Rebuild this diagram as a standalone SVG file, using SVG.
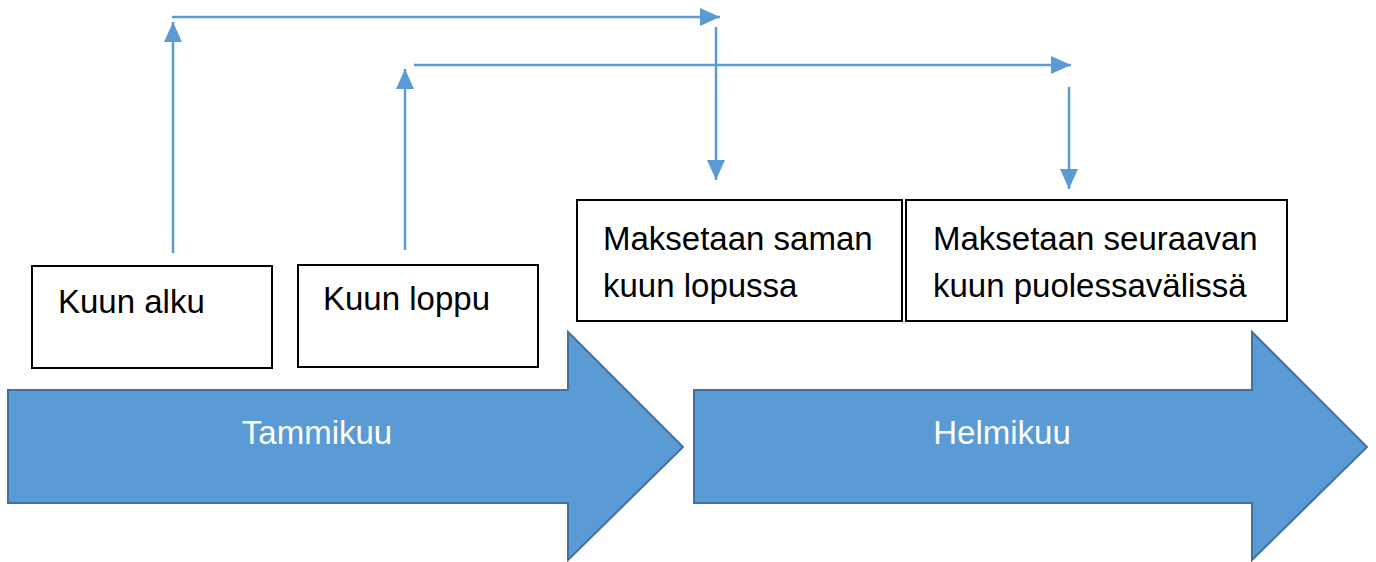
<svg xmlns="http://www.w3.org/2000/svg" width="1376" height="562" viewBox="0 0 1376 562">
<style>
.box{fill:#fff;stroke:#000;stroke-width:2}
.big{fill:#5B9BD5;stroke:#41719C;stroke-width:2}
.t{font-family:"Liberation Sans",Arial,sans-serif;font-size:33px;fill:#000}
.w{font-family:"Liberation Sans",Arial,sans-serif;font-size:33px;fill:#fff;text-anchor:middle}
.c{fill:none;stroke:#5B9BD5;stroke-width:2.5}
</style>
<defs>
<marker id="ah" markerUnits="userSpaceOnUse" markerWidth="20" markerHeight="18" refX="20" refY="9" orient="auto">
<path d="M0,0 L20,9 L0,18 Z" fill="#5B9BD5"/>
</marker>
</defs>
<rect width="1376" height="562" fill="#fff"/>
<g id="tammikuu">
<path class="big" d="M8,390 H568 V332 L683,447 L568,560 V503 H8 Z"/>
<text class="w" x="317" y="444">Tammikuu</text>
</g>
<g id="helmikuu">
<path class="big" d="M694,390 H1252 V332 L1367,447 L1252,560 V503 H694 Z"/>
<text class="w" x="1002" y="444">Helmikuu</text>
</g>
<g id="kuun-alku">
<rect class="box" x="32" y="266" width="240" height="102"/>
<text class="t" x="58" y="313">Kuun alku</text>
</g>
<g id="kuun-loppu">
<rect class="box" x="298" y="265" width="240" height="102"/>
<text class="t" x="323" y="310">Kuun loppu</text>
</g>
<g id="saman">
<rect class="box" x="577" y="200" width="325" height="121"/>
<text class="t" x="603" y="250">Maksetaan saman</text>
<text class="t" x="603" y="297">kuun lopussa</text>
</g>
<g id="seuraavan">
<rect class="box" x="906" y="200" width="381" height="121"/>
<text class="t" x="933" y="250">Maksetaan seuraavan</text>
<text class="t" x="933" y="297">kuun puolessavälissä</text>
</g>
<g id="connectors">
<line class="c" x1="173" y1="253" x2="173" y2="22" marker-end="url(#ah)"/>
<line class="c" x1="172" y1="17" x2="720" y2="17" marker-end="url(#ah)"/>
<line class="c" x1="716" y1="27" x2="716" y2="180" marker-end="url(#ah)"/>
<line class="c" x1="405" y1="250" x2="405" y2="69" marker-end="url(#ah)"/>
<line class="c" x1="414" y1="65" x2="1071" y2="65" marker-end="url(#ah)"/>
<line class="c" x1="1069" y1="87" x2="1069" y2="189" marker-end="url(#ah)"/>
</g>
</svg>
